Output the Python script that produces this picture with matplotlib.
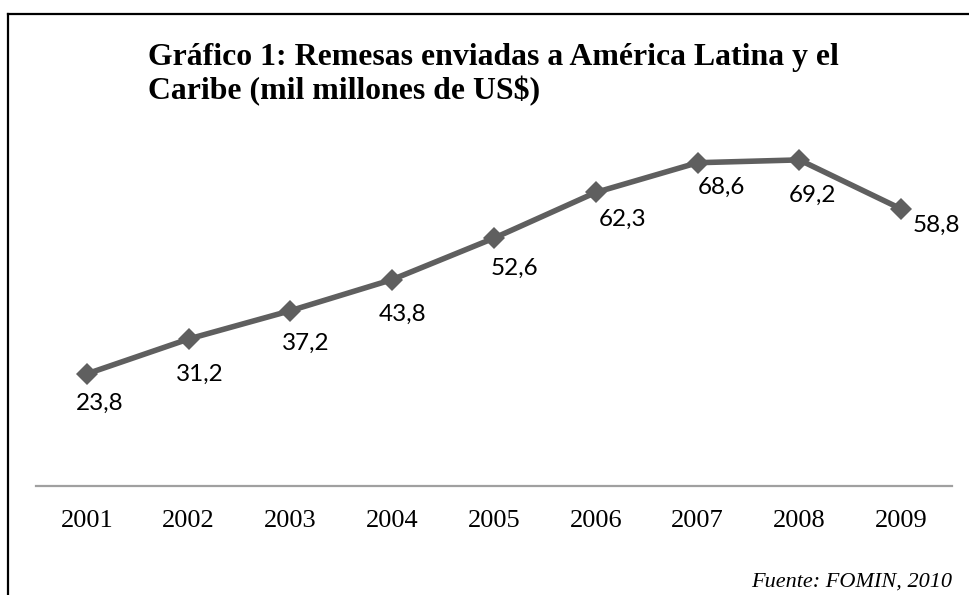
import matplotlib.pyplot as plt
from matplotlib.lines import Line2D

# ---------- Data ----------
years = ["2001", "2002", "2003", "2004", "2005", "2006", "2007", "2008", "2009"]
remesas = [23.8, 31.2, 37.2, 43.8, 52.6, 62.3, 68.6, 69.2, 58.8]
labels = ["23,8", "31,2", "37,2", "43,8", "52,6", "62,3", "68,6", "69,2", "58,8"]
# label offsets (points) as placed in the original chart
label_dx = [9.4, 7.9, 10.8, 7.2, 14.4, 19.4, 17.3, 9.4, 25.2]
label_dy = [-21.2, -25.5, -23.3, -24.8, -21.9, -19.7, -17.6, -25.5, -11.8]

title = "Gráfico 1: Remesas enviadas a América Latina y el\nCaribe (mil millones de US$)"
source = "Fuente: FOMIN, 2010"

# ---------- Figure ----------
fig = plt.figure(figsize=(9.7, 5.95), dpi=100)
ax = fig.add_axes([36 / 970, 1 - 486 / 595, 916 / 970, 377 / 595])

x = list(range(len(years)))
ax.plot(x, remesas, color="#5f5f5f", lw=4, marker="D", ms=11.5,
        markeredgewidth=0, solid_joinstyle="miter")

for xi, yi, lab, dx, dy in zip(x, remesas, labels, label_dx, label_dy):
    ax.annotate(lab, (xi, yi), xytext=(dx, dy), textcoords="offset points",
                ha="center", va="center", fontsize=17.5, family="Lato",
                color="black")

ax.set_xlim(-0.5, len(years) - 0.5)
ax.set_ylim(0, 80)
ax.set_yticks([])
ax.set_xticks(x)
ax.set_xticklabels(years, family="Liberation Serif", fontsize=19)
ax.tick_params(axis="x", length=0, pad=17)
for side in ["top", "right", "left"]:
    ax.spines[side].set_visible(False)
ax.spines["bottom"].set_color("#a0a0a0")
ax.spines["bottom"].set_linewidth(1.6)

# ---------- Frame (left and top) ----------
fig.add_artist(Line2D([8 / 970, 8 / 970], [0, 1 - 14 / 595], color="black",
                      lw=1.6, transform=fig.transFigure))
fig.add_artist(Line2D([8 / 970, 1], [1 - 14 / 595, 1 - 14 / 595], color="black",
                      lw=1.6, transform=fig.transFigure))

# ---------- Texts ----------
fig.text(148 / 970, 1 - 43 / 595, title, ha="left", va="top",
         family="Liberation Serif", fontweight="bold", fontsize=22.9,
         linespacing=1.17)
fig.text(952 / 970, 1 - 587 / 595, source, ha="right", va="baseline",
         family="Liberation Serif", style="italic", fontsize=16)

plt.savefig("out.png", dpi=100)
